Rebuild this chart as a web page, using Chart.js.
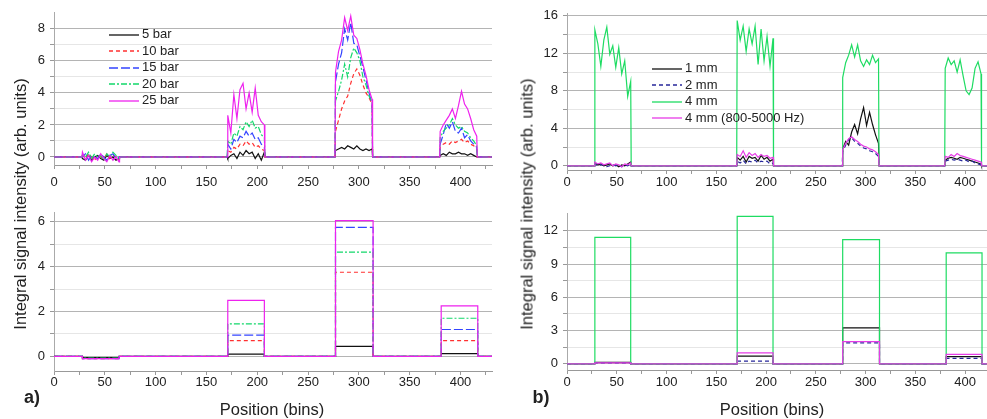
<!DOCTYPE html>
<html>
<head>
<meta charset="utf-8">
<script src="https://cdn.jsdelivr.net/npm/chart.js@4.4.1/dist/chart.umd.min.js"></script>
<style>
  body { margin: 0; background: #fff; font-family: "Liberation Sans", Arial, sans-serif; color: #222; }
  #wrap { position: relative; width: 987px; height: 419px; overflow: hidden; }
  canvas { position: absolute; }
  .txt { position: absolute; white-space: nowrap; }
  .ytitle { font-size: 16.5px; transform: translate(-50%, -50%) rotate(-90deg); }
  .xtitle { font-size: 16.5px; transform: translate(-50%, -50%); }
  .tag { font-size: 18px; font-weight: bold; transform: translate(-50%, -50%); }
  .leg { position: absolute; font-size: 13px; height: 16px; line-height: 16px; white-space: nowrap; }
  .leg svg { vertical-align: middle; margin-right: 3px; }
</style>
</head>
<body>
<div id="wrap">
  <canvas id="aTop" width="500" height="200" style="left:0;top:0"></canvas>
  <canvas id="aBot" width="500" height="219" style="left:0;top:200px"></canvas>
  <canvas id="bTop" width="497" height="200" style="left:490px;top:0"></canvas>
  <canvas id="bBot" width="497" height="219" style="left:490px;top:200px"></canvas>

  <div class="txt ytitle" style="left:20px;top:204px">Integral signal intensity (arb. units)</div>
  <div class="txt ytitle" style="left:527px;top:204px">Integral signal intensity (arb. units)</div>
  <div class="txt xtitle" style="left:272px;top:409px">Position (bins)</div>
  <div class="txt xtitle" style="left:772px;top:409px">Position (bins)</div>
  <div class="txt tag" style="left:32px;top:397px">a)</div>
  <div class="txt tag" style="left:541px;top:397px">b)</div>
  <div id="legA"></div>
  <div id="legB"></div>
</div>
<script>
// bins sampled in the four illuminated regions (upper panels)
const binsTop = [
  [28, 31, 34, 37, 40, 43, 46, 49, 52, 55, 58, 61, 64],
  [171, 174, 177, 180, 183, 186, 189, 192, 195, 198, 201, 204, 207],
  [277, 280, 283, 286, 289, 292, 295, 298, 301, 304, 307, 310, 313],
  [380, 383, 386, 389, 392, 395, 398, 401, 404, 407, 410, 413, 416]
];
// region edges (lower panels, integrated levels)
const segEdges = [[28, 64], [171, 207], [277, 314], [381, 417]];

// a) pressure series
const labelsA = ['5 bar', '10 bar', '15 bar', '20 bar', '25 bar'];
const bar5 = [
  [-0.1, -0.2, 0.1, -0.2, 0.0, 0.1, -0.1, -0.2, 0.1, -0.1, 0.0, -0.2, -0.1],
  [-0.1, 0.1, 0.2, -0.1, 0.3, 0.1, 0.4, 0.2, 0.3, -0.1, 0.2, -0.2, 0.3],
  [0.4, 0.5, 0.6, 0.5, 0.7, 0.6, 0.5, 0.7, 0.5, 0.4, 0.5, 0.4, 0.5],
  [0.1, 0.2, 0.1, 0.3, 0.2, 0.2, 0.3, 0.2, 0.2, 0.1, 0.2, 0.1, 0.0]
];
const bar10 = [
  [0.1, -0.1, 0.2, 0.0, -0.2, 0.1, 0.0, -0.1, 0.2, -0.1, 0.1, 0.0, -0.2],
  [0.4, 0.3, 0.6, 0.5, 0.8, 0.7, 1.0, 0.8, 0.9, 0.6, 0.7, 0.5, 0.4],
  [1.6, 2.3, 3.0, 3.5, 3.8, 4.6, 5.2, 5.5, 5.1, 4.5, 4.0, 3.7, 3.3],
  [0.6, 0.8, 0.9, 0.8, 1.0, 0.9, 1.0, 1.1, 0.9, 1.0, 0.8, 0.7, 0.5]
];
const bar15 = [
  [0.0, 0.2, -0.2, 0.1, 0.0, -0.1, 0.2, 0.0, -0.2, 0.1, 0.2, -0.1, 0.0],
  [0.8, 0.5, 1.1, 0.9, 1.3, 1.2, 1.6, 1.3, 1.5, 1.1, 1.2, 0.8, 0.6],
  [4.7, 5.8, 6.5, 8.0, 7.3, 8.4, 7.1, 7.0, 6.3, 5.6, 4.8, 4.0, 3.3],
  [0.8, 1.4, 2.1, 1.8, 2.2, 1.6, 1.5, 1.8, 1.2, 1.4, 1.0, 0.8, 0.6]
];
const bar20 = [
  [0.2, 0.0, 0.3, -0.1, 0.2, 0.0, 0.1, -0.2, 0.2, 0.0, 0.3, 0.1, -0.1],
  [1.0, 0.8, 1.5, 1.3, 1.9, 1.7, 2.2, 1.9, 2.3, 1.8, 1.9, 1.4, 1.2],
  [3.5, 4.1, 4.8, 5.8, 5.0, 6.2, 6.8, 6.5, 6.0, 5.0, 4.5, 3.8, 3.4],
  [1.2, 1.6, 1.8, 2.0, 2.4, 2.0, 1.8, 1.9, 1.6, 1.5, 1.2, 1.0, 0.7]
];
const bar25 = [
  [0.3, -0.2, 0.1, -0.3, 0.0, -0.2, 0.2, -0.1, -0.3, 0.1, -0.2, 0.0, -0.3],
  [2.6, 1.5, 3.9, 2.4, 4.2, 4.6, 3.0, 4.0, 2.8, 4.3, 2.6, 2.2, 2.0],
  [5.3, 6.6, 7.3, 8.7, 7.9, 8.8, 7.6, 7.4, 6.7, 5.8, 5.1, 4.2, 3.6],
  [1.6, 2.0, 2.3, 2.6, 3.0, 2.4, 3.2, 4.1, 3.3, 3.0, 2.4, 1.7, 1.3]
];
const levels5 = [-0.05, 0.1, 0.45, 0.12];
const levels10 = [-0.1, 0.7, 3.75, 0.7];
const levels15 = [-0.1, 0.95, 5.75, 1.2];
const levels20 = [-0.08, 1.45, 4.65, 1.7];
const levels25 = [-0.1, 2.5, 6.05, 2.25];

// b) thickness series
const labelsB = ['1 mm', '2 mm', '4 mm', '4 mm (800-5000 Hz)'];
const mm1 = [
  [0.3, 0.1, 0.2, 0.0, 0.1, 0.2, 0.0, 0.1, -0.1, 0.1, 0.0, 0.2, 0.4],
  [0.9, 0.6, 1.0, 0.4, 1.0, 0.8, 0.9, 0.5, 1.1, 0.7, 0.9, 0.5, 0.7],
  [1.8, 2.6, 2.2, 3.6, 4.4, 3.4, 5.0, 6.2, 4.3, 5.7, 4.4, 3.3, 2.4],
  [0.6, 0.8, 0.9, 0.8, 0.7, 0.9, 0.8, 0.7, 0.6, 0.5, 0.4, 0.3, 0.2]
];
const mm2 = [
  [0.2, 0.0, 0.1, 0.1, -0.1, 0.0, 0.1, 0.0, 0.1, -0.1, 0.1, 0.0, 0.2],
  [0.5, 0.3, 0.6, 0.2, 0.5, 0.4, 0.6, 0.3, 0.5, 0.4, 0.5, 0.2, 0.3],
  [1.5, 2.2, 2.8, 3.0, 2.6, 2.4, 2.1, 1.9, 1.8, 1.6, 1.5, 1.3, 1.0],
  [0.5, 0.6, 0.7, 0.6, 0.7, 0.6, 0.5, 0.6, 0.4, 0.5, 0.3, 0.2, 0.1]
];
const mm4 = [
  [14.5, 13.0, 10.6, 13.4, 14.8, 11.9, 12.8, 10.5, 12.6, 9.8, 11.2, 7.4, 9.0],
  [15.5, 13.4, 14.9, 12.2, 14.6, 13.0, 14.9, 10.8, 14.6, 11.2, 13.8, 10.6, 13.6],
  [9.4, 11.0, 11.8, 12.9, 11.6, 12.9, 11.2, 10.6, 11.3, 10.8, 11.8, 11.0, 11.4],
  [10.4, 11.5, 10.8, 11.2, 10.0, 11.3, 9.6, 8.0, 7.6, 8.3, 10.4, 11.1, 9.8]
];
const mm4f = [
  [0.4, 0.2, 0.3, 0.1, 0.2, 0.3, 0.0, 0.2, 0.1, -0.1, 0.2, 0.1, 0.3],
  [1.2, 1.0, 1.6, 0.9, 1.4, 1.1, 1.3, 0.9, 1.2, 1.0, 1.1, 0.8, 0.9],
  [1.7, 2.4, 2.9, 3.1, 2.8, 2.6, 2.3, 2.1, 2.0, 1.8, 1.7, 1.5, 1.2],
  [1.0, 0.9, 1.2, 1.0, 1.3, 1.1, 1.0, 0.9, 0.8, 0.7, 0.6, 0.5, 0.4]
];
const levels1mm = [0.15, 0.7, 3.25, 0.65];
const levels2mm = [0.1, 0.25, 1.9, 0.5];
const levels4mm = [11.4, 13.3, 11.2, 10.0];
const levels4mmF = [0.1, 1.0, 2.0, 0.85];

const xTicks = [0, 25, 50, 75, 100, 125, 150, 175, 200, 225, 250, 275, 300, 325, 350, 375, 400, 425];

const stylesA = [
  { color: '#111111', dash: [] },
  { color: '#ff3030', dash: [4, 3] },
  { color: '#3344ff', dash: [9, 3] },
  { color: '#12d86a', dash: [6, 2, 2, 2] },
  { color: '#ee22ee', dash: [] }
];
const stylesB = [
  { color: '#111111', dash: [] },
  { color: '#27279a', dash: [4, 3] },
  { color: '#1edc62', dash: [] },
  { color: '#e63ce6', dash: [] }
];

function noisyLine(segVals) {
  const pts = [{ x: 0, y: 0 }];
  segVals.forEach((vals, k) => {
    const bins = binsTop[k];
    pts.push({ x: bins[0] - 0.5, y: 0 });
    vals.forEach((v, i) => pts.push({ x: bins[i], y: v }));
    pts.push({ x: bins[bins.length - 1] + 0.5, y: 0 });
  });
  pts.push({ x: 440, y: 0 });
  return pts;
}

function stepLine(levels) {
  const pts = [{ x: 0, y: 0 }];
  levels.forEach((v, k) => {
    const s = segEdges[k][0], e = segEdges[k][1];
    pts.push({ x: s, y: 0 }, { x: s, y: v }, { x: e, y: v }, { x: e, y: 0 });
  });
  pts.push({ x: 440, y: 0 });
  return pts;
}

function makeSets(series, labels, styles) {
  const n = series.length;
  return series.map((pts, i) => ({
    label: labels[i],
    data: pts,
    borderColor: styles[i].color,
    borderDash: styles[i].dash,
    borderWidth: 1.2,
    pointRadius: 0,
    tension: 0,
    order: n - i   // last series on top
  }));
}

const tickFont = { family: '"Liberation Sans", Arial, sans-serif', size: 13 };

function makeChart(id, o) {
  new Chart(document.getElementById(id), {
    type: 'line',
    data: { datasets: o.datasets },
    options: {
      responsive: false,
      animation: false,
      devicePixelRatio: 1,
      layout: { padding: { top: o.padTop, right: o.padRight, left: 0, bottom: 0 } },
      plugins: { legend: { display: false }, tooltip: { enabled: false } },
      scales: {
        x: {
          type: 'linear',
          min: 0,
          max: o.xMax,
          afterBuildTicks: s => { s.ticks = xTicks.filter(v => v <= o.xMax).map(v => ({ value: v })); },
          afterFit: s => { s.height = o.xHeight; },
          ticks: {
            autoSkip: false, maxRotation: 0, font: tickFont, color: '#222', padding: o.xPad,
            callback: v => (v % 50 === 0 ? String(v) : '')
          },
          grid: { drawOnChartArea: false, drawTicks: true, tickLength: 4, tickColor: '#999' },
          border: { color: '#999' }
        },
        y: {
          min: o.yMin,
          max: o.yMax,
          afterBuildTicks: s => { s.ticks = o.yMajor.concat(o.yMinor).sort((a, b) => a - b).map(v => ({ value: v })); },
          afterFit: s => { s.width = o.yWidth; },
          ticks: {
            autoSkip: false, font: tickFont, color: '#222', padding: 5,
            callback: v => (o.yMajor.includes(v) ? String(v) : '')
          },
          grid: {
            color: ctx => (ctx.tick && o.yMajor.includes(ctx.tick.value) ? '#b4b4b4' : '#e6e6e6'),
            tickLength: 4,
            tickColor: '#999'
          },
          border: { color: '#aaa' }
        }
      }
    }
  });
}

makeChart('aTop', {
  datasets: makeSets([bar5, bar10, bar15, bar20, bar25].map(noisyLine), labelsA, stylesA),
  xMax: 431, yMin: -0.5, yMax: 9, yMajor: [0, 2, 4, 6, 8], yMinor: [1, 3, 5, 7],
  yWidth: 54, padTop: 8, padRight: 8, xHeight: 35, xPad: 6
});
makeChart('aBot', {
  datasets: makeSets([levels5, levels10, levels15, levels20, levels25].map(stepLine), labelsA, stylesA),
  xMax: 431, yMin: -0.65, yMax: 6.4, yMajor: [0, 2, 4, 6], yMinor: [1, 3, 5],
  yWidth: 54, padTop: 12, padRight: 8, xHeight: 48, xPad: 0
});
makeChart('bTop', {
  datasets: makeSets([mm1, mm2, mm4, mm4f].map(noisyLine), labelsB, stylesB),
  xMax: 422, yMin: -0.45, yMax: 16.3, yMajor: [0, 4, 8, 12, 16], yMinor: [2, 6, 10, 14],
  yWidth: 77, padTop: 13, padRight: 0, xHeight: 30, xPad: 1
});
makeChart('bBot', {
  datasets: makeSets([levels1mm, levels2mm, levels4mm, levels4mmF].map(stepLine), labelsB, stylesB),
  xMax: 422, yMin: -0.55, yMax: 13.6, yMajor: [0, 3, 6, 9, 12], yMinor: [1.5, 4.5, 7.5, 10.5],
  yWidth: 77, padTop: 13, padRight: 0, xHeight: 49, xPad: 1
});

// legends as html text with svg line samples
function buildLegend(id, labels, styles, left, top, step) {
  const box = document.getElementById(id);
  labels.forEach((lab, i) => {
    const row = document.createElement('div');
    row.className = 'leg';
    row.style.left = left + 'px';
    row.style.top = (top + i * step - 8) + 'px';
    const dash = styles[i].dash.length ? ' stroke-dasharray="' + styles[i].dash.join(',') + '"' : '';
    row.innerHTML = '<svg width="30" height="4"><line x1="0" y1="2" x2="30" y2="2" stroke="' +
      styles[i].color + '" stroke-width="1.3"' + dash + '/></svg>' + lab;
    box.appendChild(row);
  });
}
buildLegend('legA', labelsA, stylesA, 109, 34, 16.6);
buildLegend('legB', labelsB, stylesB, 652, 68, 16.6);
</script>
</body>
</html>
